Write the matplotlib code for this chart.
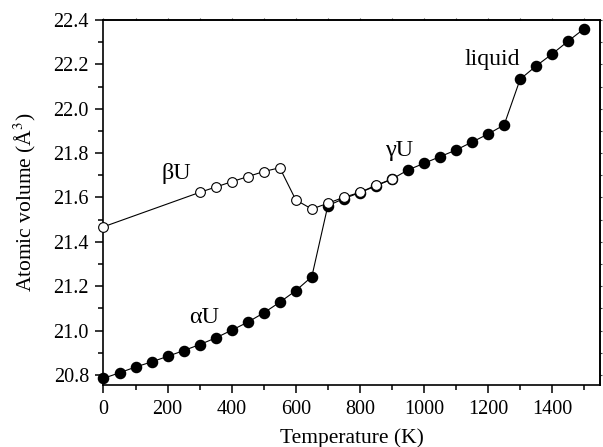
import matplotlib
matplotlib.use("Agg")
import matplotlib.pyplot as plt
from matplotlib.ticker import MultipleLocator, FormatStrFormatter, NullFormatter

plt.rcParams['font.family'] = ['Liberation Serif', 'DejaVu Serif']
plt.rcParams['mathtext.fontset'] = 'stix'

# filled series: alpha U -> gamma U -> liquid
T_filled = [0, 50, 100, 150, 200, 250, 300, 350, 400, 450, 500, 550, 600, 650,
            700, 750, 800, 850, 900, 950, 1000, 1050, 1100, 1150, 1200, 1250,
            1300, 1350, 1400, 1450, 1500]
V_filled = [20.785, 20.81, 20.836, 20.859, 20.884, 20.91, 20.937, 20.967, 21.002,
            21.038, 21.08, 21.128, 21.18, 21.243,
            21.563, 21.595, 21.622, 21.652, 21.683, 21.724, 21.754, 21.784, 21.814,
            21.85, 21.886, 21.927,
            22.133, 22.193, 22.247, 22.305, 22.361]

# open series: beta U and gamma U (open)
T_open = [0, 300, 350, 400, 450, 500, 550, 600, 650, 700, 750, 800, 850, 900]
V_open = [21.468, 21.623, 21.647, 21.671, 21.694, 21.717, 21.734, 21.589,
          21.548, 21.574, 21.601, 21.623, 21.655, 21.683]

fig = plt.figure(figsize=(6.03, 4.47), dpi=100)
ax = fig.add_axes([0.1716, 0.1387, 0.9975 - 0.1716 - 0.002, 0.9553 - 0.1387])

ax.plot(T_filled, V_filled, '-', color='black', lw=0.8, marker='o', ms=7.3,
        mfc='black', mec='black', zorder=3, clip_on=False)
ax.plot(T_open, V_open, '-', color='black', lw=0.8, marker='o', ms=7,
        mfc='white', mec='black', mew=0.8, zorder=4, clip_on=False)

ax.set_xlim(0, 1550)
ax.set_ylim(20.755, 22.4)
ax.xaxis.set_major_locator(MultipleLocator(200))
ax.xaxis.set_minor_locator(MultipleLocator(100))
ax.yaxis.set_major_locator(MultipleLocator(0.2))
ax.yaxis.set_minor_locator(MultipleLocator(0.1))
ax.yaxis.set_major_formatter(FormatStrFormatter('%.1f'))

ax.tick_params(which='both', direction='out', labelsize=14.5, width=1.1,
               top=False, right=False)
ax.tick_params(which='major', length=5.5, pad=5)
ax.tick_params(which='minor', length=3.5)

# tiny ticks on top and right spines (no labels)
sec_x = ax.secondary_xaxis('top')
sec_x.xaxis.set_major_locator(MultipleLocator(200))
sec_x.xaxis.set_minor_locator(MultipleLocator(100))
sec_x.xaxis.set_major_formatter(NullFormatter())
sec_x.tick_params(which='both', direction='out', length=1.5, width=0.8,
                  color='#444444', labeltop=False)
sec_x.spines['top'].set_linewidth(1.2)

sec_y = ax.secondary_yaxis('right')
sec_y.yaxis.set_major_locator(MultipleLocator(0.2))
sec_y.yaxis.set_minor_locator(MultipleLocator(0.1))
sec_y.yaxis.set_major_formatter(NullFormatter())
sec_y.tick_params(which='both', direction='out', length=1.5, width=0.8,
                  color='#444444', labelright=False)
sec_y.spines['right'].set_linewidth(1.2)

for s in ax.spines.values():
    s.set_linewidth(1.2)

ax.set_xlabel('Temperature (K)', fontsize=15.5, labelpad=7)
ax.set_ylabel(r'Atomic volume (Å$^{3}$)', fontsize=15.5, labelpad=11)

ax.text(228, 21.71, 'βU', fontsize=17.5, ha='center', va='center')
ax.text(921, 21.81, 'γU', fontsize=17.5, ha='center', va='center')
ax.text(1213, 22.22, 'liquid', fontsize=17, ha='center', va='center')
ax.text(315, 21.06, 'αU', fontsize=17.5, ha='center', va='center')

fig.savefig('out.png', dpi=100)
